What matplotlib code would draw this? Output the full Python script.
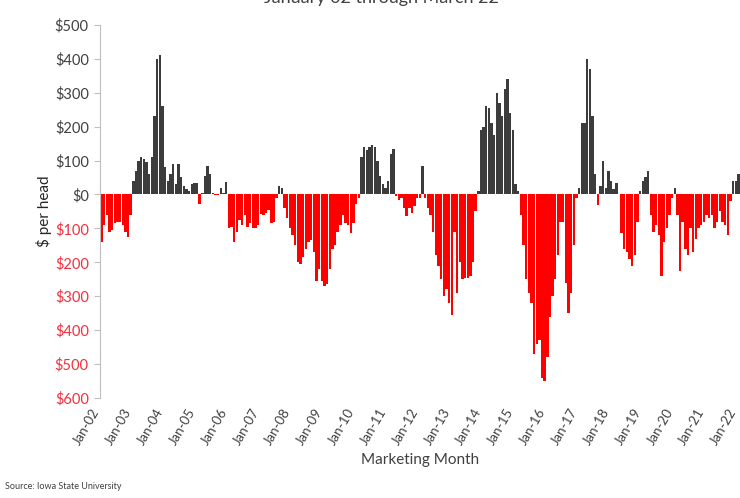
import numpy as np
import matplotlib
matplotlib.use('Agg')
import matplotlib.pyplot as plt
import matplotlib.transforms as mtransforms

plt.rcParams['font.family'] = ['Lato', 'DejaVu Sans']

# monthly returns, $ per head, Jan-02 .. Jan-22
y2002 = [-140, -90, -60, -110, -105, -85, -80, -80, -90, -110, -125, -60]
y2003 = [40, 70, 100, 110, 105, 95, 60, 110, 230, 400, 410, 260]
y2004 = [80, 40, 60, 90, 30, 90, 50, 25, 15, 10, 30, 35]
y2005 = [35, -28, 5, 55, 83, 60, 5, -3, -2, 20, 5, 38]
y2006 = [-100, -95, -140, -110, -75, -90, -60, -95, -85, -100, -100, -90]
y2007 = [-57, -60, -55, -45, -85, -80, -10, 25, 20, -40, -70, -100]
y2008 = [-120, -150, -200, -205, -185, -160, -140, -135, -170, -255, -220, -255]
y2009 = [-270, -265, -220, -160, -150, -110, -90, -60, -85, -90, -115, -85]
y2010 = [-27, -10, 110, 140, 130, 140, 145, 140, 100, 55, 30, 18]
y2011 = [40, 120, 135, -5, -15, -10, -40, -65, -40, -55, -35, -10]
y2012 = [-10, 85, -10, -40, -60, -110, -180, -210, -250, -300, -280, -320]
y2013 = [-355, -110, -290, -200, -250, -245, -245, -240, -200, -50, 10, 190]
y2014 = [200, 260, 255, 210, 175, 300, 270, 230, 310, 340, 240, 190]
y2015 = [30, 10, -60, -150, -250, -290, -320, -470, -440, -430, -540, -550]
y2016 = [-480, -360, -300, -250, -180, -80, -80, -260, -350, -290, -150, -10]
y2017 = [20, 210, 210, 400, 370, 230, 60, -30, 25, 100, 20, 70]
y2018 = [40, 15, 35, 0, -115, -160, -170, -190, -210, -180, -80, 10]
y2019 = [40, 50, 70, -60, -110, -90, -120, -240, -140, -100, -60, -10]
y2020 = [20, -60, -225, -80, -160, -180, -100, -170, -130, -100, -90, -80]
y2021 = [-60, -70, -60, -100, -80, -50, -80, -90, -120, -20, 40, 40]
y2022 = [60]

years = [y2002, y2003, y2004, y2005, y2006, y2007, y2008, y2009, y2010, y2011,
         y2012, y2013, y2014, y2015, y2016, y2017, y2018, y2019, y2020, y2021, y2022]
tick_labels = ['Jan-%02d' % (i + 2) for i in range(21)]
yticks = list(range(-600, 501, 100))

vals = np.array([v for yr in years for v in yr], dtype=float)
x = np.arange(len(vals))
cols = np.where(vals >= 0, '#3c3c3c', '#ff0000')

fig = plt.figure(figsize=(7.4, 4.98), dpi=100)
ax = fig.add_axes([0.135, 0.201, 0.865, 0.749])
ax.bar(x, vals, width=0.9, color=cols, linewidth=0)

ax.set_xlim(-0.6, 240.6)
ax.set_ylim(-600, 500)
ax.set_yticks(yticks)
ax.set_yticklabels(['$%d' % abs(v) for v in yticks], fontsize=10.5)
for lab, v in zip(ax.get_yticklabels(), yticks):
    lab.set_color('#f0303c' if v < 0 else '#404040')
ax.tick_params(axis='y', length=4, color='#bfbfbf', pad=4)

ax.set_xticks(np.arange(0, 241, 12))
ax.set_xticklabels(tick_labels, rotation=60, ha='right', va='top',
                   rotation_mode='anchor', fontsize=9.5, color='#404040')
ax.tick_params(axis='x', length=0, pad=6)
# nudge the rotated labels to the left so the last one fits in the figure
shift = mtransforms.ScaledTranslation(-10 / 100, 0, fig.dpi_scale_trans)
for lab in ax.get_xticklabels():
    lab.set_transform(lab.get_transform() + shift)

for s in ['top', 'right', 'bottom']:
    ax.spines[s].set_visible(False)
ax.spines['left'].set_color('#bfbfbf')

ax.set_ylabel('$ per head', fontsize=11, color='#262626', labelpad=2)
ax.set_xlabel('Marketing Month', fontsize=11, color='#404040', labelpad=4)

fig.text(0.516, 1 - 3 / 498, 'January 02 through March 22', ha='center',
         va='baseline', fontsize=13, color='#404040')
fig.text(0.007, 0.018, 'Source: Iowa State University', fontsize=6.5, color='#404040')

fig.savefig('out.png', dpi=100)
